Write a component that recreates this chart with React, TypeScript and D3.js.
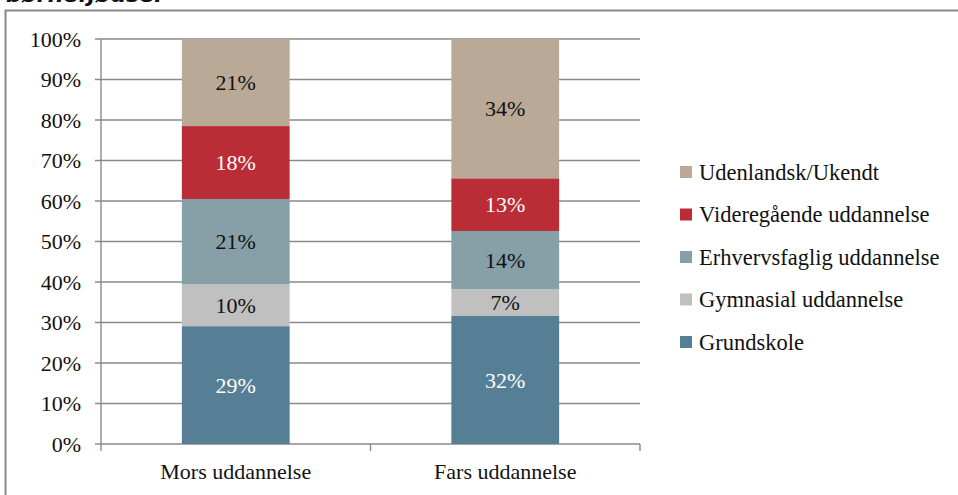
import React from "react";
import * as d3 from "d3";

const categories = ["Mors uddannelse", "Fars uddannelse"];
const seriesNames = [
  "Grundskole",
  "Gymnasial uddannelse",
  "Erhvervsfaglig uddannelse",
  "Videregående uddannelse",
  "Udenlandsk/Ukendt",
];
const grundskole = [29.1, 31.6];
const gymnasial = [10.4, 6.6];
const erhvervsfaglig = [21.0, 14.4];
const videregaaende = [18.0, 13.0];
const udenlandsk = [21.4, 34.4];
const seriesColors = ["#567F96", "#C0C0C0", "#87A0A8", "#BA2C36", "#BBA997"];
const labelColors = ["#ffffff", "#111111", "#111111", "#ffffff", "#111111"];
const yTicks = [0, 10, 20, 30, 40, 50, 60, 70, 80, 90, 100];
const titleText = "børnefjødsel";

const FONT = "'Liberation Serif', 'Times New Roman', serif";

export default function App() {
  const W = 958;
  const H = 495;
  const left = 101;
  const right = 640;
  const top = 39;
  const bottom = 444;

  const values = [grundskole, gymnasial, erhvervsfaglig, videregaaende, udenlandsk];
  const rows = categories.map((c, i) => {
    const r: any = { cat: c };
    seriesNames.forEach((s, j) => (r[s] = values[j][i]));
    return r;
  });
  const stacked = d3.stack<any>().keys(seriesNames)(rows);

  const x = d3.scaleBand<string>().domain(categories).range([left, right]).paddingInner(0).paddingOuter(0);
  const barW = x.bandwidth() * 0.4;
  const y = d3.scaleLinear().domain([0, 100]).range([bottom, top]);

  const gridColor = "#8a8a8a";
  const fs = 22;

  const legendX = 680;
  const legendY0 = 172;
  const legendStep = 42.5;
  const legendOrder = [...seriesNames.keys()].reverse();

  return (
    <svg
      width={W}
      height={H}
      style={{ position: "absolute", left: 0, top: 0, background: "#fff" }}
      fontFamily={FONT}
    >
      <text x={6} y={2} fontSize={22} fontWeight="bold" fontStyle="italic" fill="#111" fontFamily="'DejaVu Sans', sans-serif">
        {titleText}
      </text>
      <path d={`M5.5,${H + 2} V10.5 H${W + 2}`} fill="none" stroke="#888" strokeWidth={2} />

      {yTicks.map((t) => (
        <g key={t}>
          <line x1={95} x2={right} y1={y(t)} y2={y(t)} stroke={gridColor} strokeWidth={1.4} />
          <text x={81} y={y(t)} dy="0.35em" textAnchor="end" fontSize={fs} fill="#111">
            {t}%
          </text>
        </g>
      ))}
      <line x1={left} x2={left} y1={top} y2={bottom + 7} stroke={gridColor} strokeWidth={1.4} />
      {[left + x.bandwidth(), right].map((tx, i) => (
        <line key={i} x1={tx} x2={tx} y1={bottom} y2={bottom + 7} stroke={gridColor} strokeWidth={1.4} />
      ))}

      {stacked.map((layer, si) => (
        <g key={layer.key}>
          {layer.map((d, ci) => {
            const bx = (x(categories[ci]) as number) + (x.bandwidth() - barW) / 2;
            const y0 = y(d[0]);
            const y1 = y(d[1]);
            return (
              <g key={ci}>
                <rect x={bx} y={y1} width={barW} height={y0 - y1} fill={seriesColors[si]} />
                <text
                  x={bx + barW / 2}
                  y={(y0 + y1) / 2}
                  dy="0.35em"
                  textAnchor="middle"
                  fontSize={fs}
                  fill={labelColors[si]}
                >
                  {Math.round(d[1] - d[0])}%
                </text>
              </g>
            );
          })}
        </g>
      ))}

      {categories.map((c) => (
        <text
          key={c}
          x={(x(c) as number) + x.bandwidth() / 2}
          y={471}
          dy="0.35em"
          textAnchor="middle"
          fontSize={fs}
          fill="#111"
        >
          {c}
        </text>
      ))}

      {legendOrder.map((si, i) => (
        <g key={si} transform={`translate(${legendX},${legendY0 + i * legendStep})`}>
          <rect x={0} y={-6} width={12} height={12} fill={seriesColors[si]} />
          <text x={19} y={0} dy="0.35em" fontSize={22.5} fill="#111">
            {seriesNames[si]}
          </text>
        </g>
      ))}
    </svg>
  );
}
